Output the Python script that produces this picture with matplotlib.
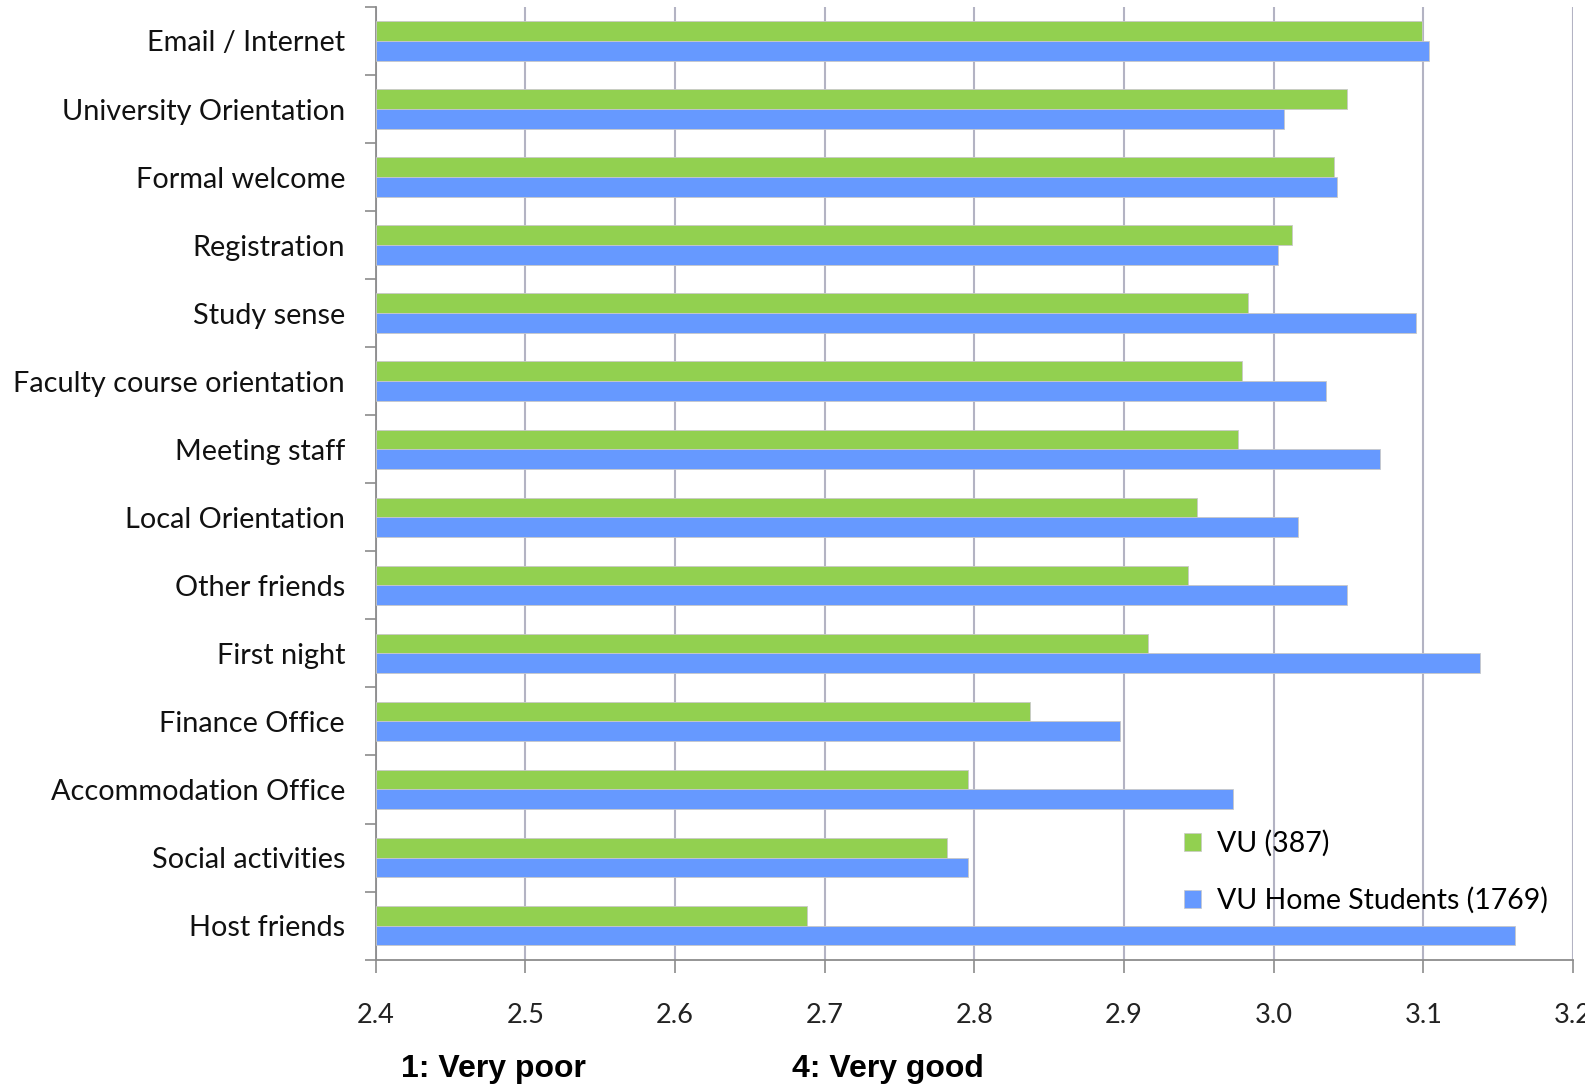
import matplotlib
matplotlib.use("Agg")
import matplotlib.pyplot as plt
import numpy as np
from matplotlib.patches import Patch

categories = ["Email / Internet", "University Orientation", "Formal welcome",
              "Registration", "Study sense", "Faculty course orientation",
              "Meeting staff", "Local Orientation", "Other friends",
              "First night", "Finance Office", "Accommodation Office",
              "Social activities", "Host friends"]
vu = [3.099, 3.049, 3.040, 3.012, 2.983, 2.979, 2.976, 2.949, 2.943,
      2.916, 2.837, 2.796, 2.782, 2.688]
home = [3.104, 3.007, 3.042, 3.003, 3.095, 3.035, 3.071, 3.016, 3.049,
        3.138, 2.897, 2.973, 2.796, 3.161]
xticks = [2.4, 2.5, 2.6, 2.7, 2.8, 2.9, 3.0, 3.1, 3.2]
series_labels = ["VU (387)", "VU Home Students (1769)"]
scale_labels = ["1: Very poor", "4: Very good"]

GREEN = "#92D050"
BLUE = "#6699FF"
GRID = "#B3B3C3"
SPINE = "#8C8C8C"

fig = plt.figure(figsize=(15.85, 10.88), dpi=100)
ax = fig.add_axes([0.237, 0.118, 0.7555, 0.8756])

y = np.arange(len(categories))
h = 0.29
ax.barh(y - h / 2, np.array(vu) - 2.4, left=2.4, height=h, color=GREEN,
        edgecolor="#C8C8C8", linewidth=0.6, zorder=3)
ax.barh(y + h / 2, np.array(home) - 2.4, left=2.4, height=h, color=BLUE,
        edgecolor="#C8C8C8", linewidth=0.6, zorder=3)

ax.set_xlim(2.4, 3.2)
ax.set_ylim(len(categories) - 0.5, -0.5)
ax.set_xticks(xticks)
ax.set_xticklabels([f"{v:.1f}" for v in xticks], fontsize=19.5, family="Lato", color="#222222")
ax.set_yticks(y)
ax.set_yticklabels(categories, fontsize=20.8, family="Lato", color="#111111")
ax.set_yticks(np.arange(-0.5, len(categories), 1.0), minor=True)
ax.tick_params(axis="y", which="major", length=0, pad=22)
ax.tick_params(axis="y", which="minor", length=8, width=1.2, color=SPINE, direction="out")
ax.tick_params(axis="x", which="major", length=9, width=1.2, color=SPINE, pad=22)

ax.grid(axis="x", color=GRID, linewidth=1.5, zorder=0)
ax.set_axisbelow(True)
for s in ["top", "right"]:
    ax.spines[s].set_visible(False)
for s in ["left", "bottom"]:
    ax.spines[s].set_color(SPINE)
    ax.spines[s].set_linewidth(1.3)

handles = [Patch(facecolor=GREEN, edgecolor="#C8C8C8", linewidth=0.5),
           Patch(facecolor=BLUE, edgecolor="#C8C8C8", linewidth=0.5)]
leg = fig.legend(handles, series_labels, loc="upper left",
                 bbox_to_anchor=(1184 / 1585, 1 - 830 / 1088),
                 frameon=False, prop={"family": "Lato", "size": 20.5},
                 handlelength=0.6, handleheight=0.6, handletextpad=0.55,
                 labelspacing=1.05, borderaxespad=0, borderpad=0)

fig.text(401 / 1585, 1 - 1069 / 1088, scale_labels[0], fontsize=23, fontweight="bold",
         family=["Liberation Sans Narrow", "Liberation Sans"], va="center", ha="left")
fig.text(792 / 1585, 1 - 1069 / 1088, scale_labels[1], fontsize=23, fontweight="bold",
         family=["Liberation Sans Narrow", "Liberation Sans"], va="center", ha="left")

fig.savefig("out.png", dpi=100, facecolor="white")
